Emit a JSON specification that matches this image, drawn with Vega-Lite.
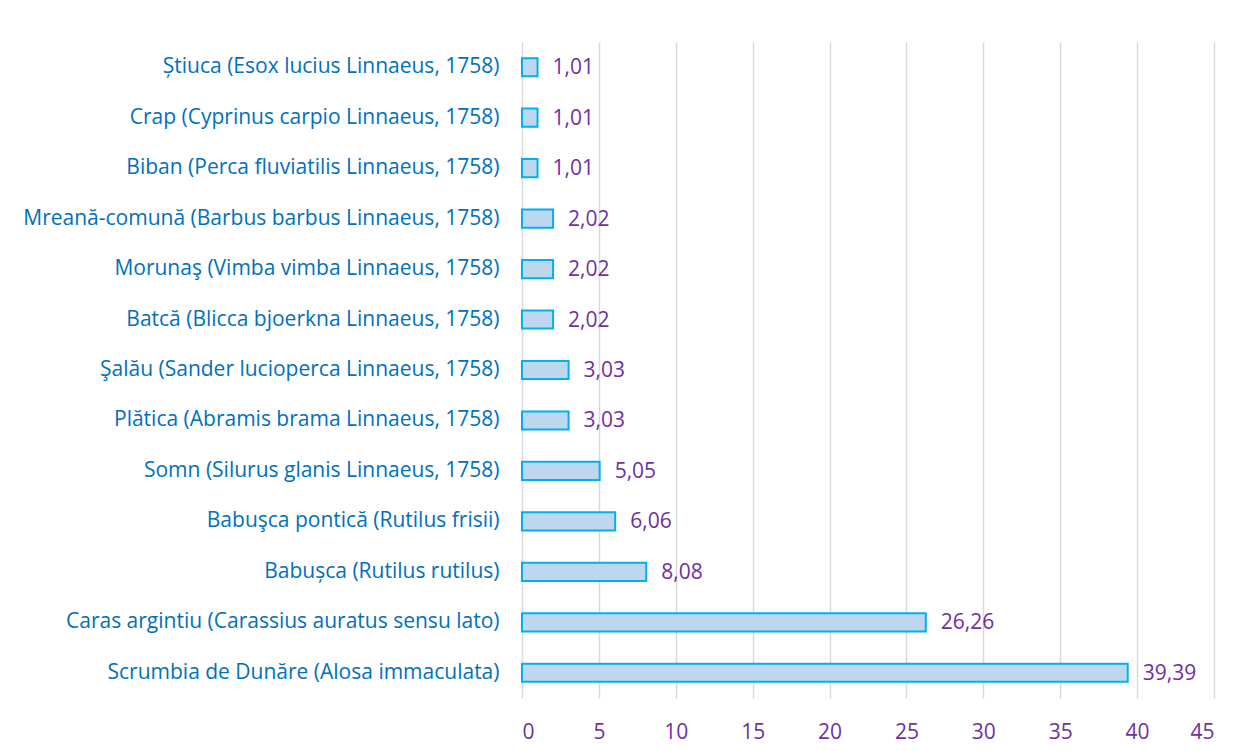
{
  "$schema": "https://vega.github.io/schema/vega-lite/v6.json",
  "width": 692,
  "height": 656,
  "autosize": {"type": "none"},
  "padding": {"left": 522, "top": 42, "right": 31, "bottom": 53},
  "background": "white",
  "config": {
    "view": {"stroke": null},
    "locale": {"number": {"decimal": ",", "thousands": ".", "grouping": [3], "currency": ["", " €"]}},
    "font": "Open Sans"
  },
  "data": {
    "values": [
      {"species": "Știuca (Esox lucius Linnaeus, 1758)", "value": 1.01},
      {"species": "Crap (Cyprinus carpio Linnaeus, 1758)", "value": 1.01},
      {"species": "Biban (Perca fluviatilis Linnaeus, 1758)", "value": 1.01},
      {"species": "Mreană-comună (Barbus barbus Linnaeus, 1758)", "value": 2.02},
      {"species": "Morunaş (Vimba vimba Linnaeus, 1758)", "value": 2.02},
      {"species": "Batcă (Blicca bjoerkna Linnaeus, 1758)", "value": 2.02},
      {"species": "Şalău (Sander lucioperca Linnaeus, 1758)", "value": 3.03},
      {"species": "Plătica (Abramis brama Linnaeus, 1758)", "value": 3.03},
      {"species": "Somn (Silurus glanis Linnaeus, 1758)", "value": 5.05},
      {"species": "Babuşca pontică (Rutilus frisii)", "value": 6.06},
      {"species": "Babușca (Rutilus rutilus)\u00a0", "value": 8.08},
      {"species": "Caras argintiu (Carassius auratus sensu lato)", "value": 26.26},
      {"species": "Scrumbia de Dunăre (Alosa immaculata)", "value": 39.39}
    ]
  },
  "encoding": {
    "y": {
      "field": "species", "type": "nominal", "sort": null,
      "scale": {"paddingInner": 0.64, "paddingOuter": 0.32},
      "axis": {"title": null, "ticks": false, "domain": false, "grid": false, "labelColor": "#0070C0", "labelFontSize": 21, "labelPadding": 23, "labelLimit": 600, "labelFont": "Open Sans"}
    },
    "x": {
      "field": "value", "type": "quantitative",
      "scale": {"domain": [0, 45], "nice": false},
      "axis": {"title": null, "values": [0,5,10,15,20,25,30,35,40,45], "ticks": false, "domain": false, "grid": true, "gridColor": "#D9D9D9", "gridWidth": 1.5, "labelColor": "#7030A0", "labelFontSize": 21, "labelPadding": 23, "labelFont": "Open Sans", "format": "d"}
    }
  },
  "layer": [
    {"mark": {"type": "bar", "fill": "#BDD7EE", "stroke": "#00B0F0", "strokeWidth": 2, "cornerRadius": 0}},
    {"mark": {"type": "text", "align": "left", "baseline": "middle", "dx": 15, "dy": 1, "fontSize": 21, "color": "#7030A0", "font": "Open Sans"},
     "encoding": {"text": {"field": "value", "type": "quantitative", "format": ".2f"}}}
  ]
}
